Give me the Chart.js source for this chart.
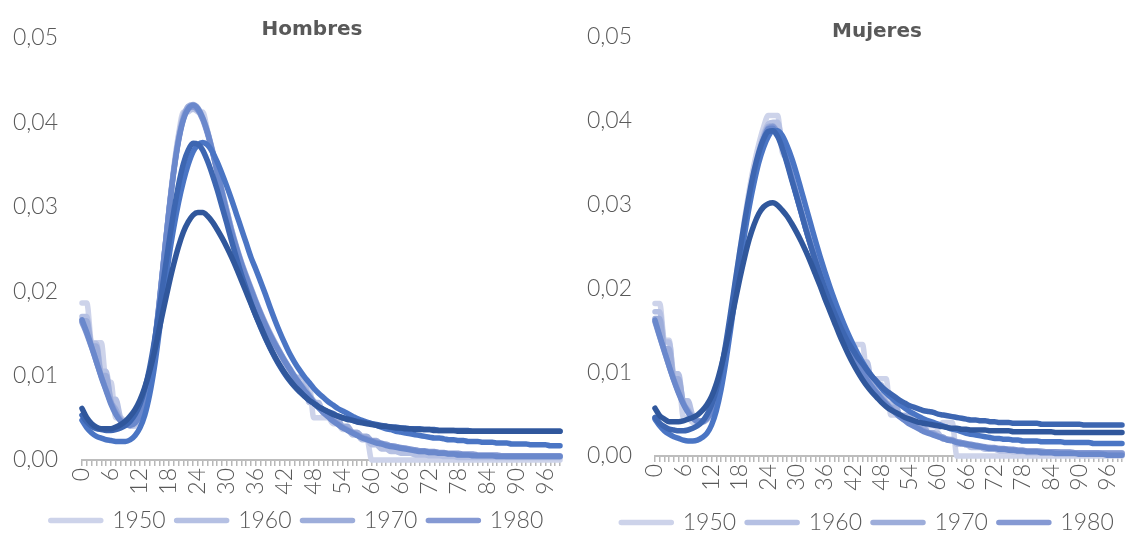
<!DOCTYPE html>
<html><head><meta charset="utf-8">
<script src="https://cdn.jsdelivr.net/npm/chart.js@4/dist/chart.umd.min.js"></script>
<style>
html,body{margin:0;padding:0;background:#fff;overflow:hidden;width:1129px;height:537px;}
canvas{position:absolute;top:0;}
#cH{left:0;}
#cM{left:565px;}
</style></head><body>
<canvas id="cH" width="565" height="542"></canvas>
<canvas id="cM" width="564" height="544"></canvas>
<script>
const ages = [0,1,2,3,4,5,6,7,8,9,10,11,12,13,14,15,16,17,18,19,20,21,22,23,24,25,26,27,28,29,30,31,32,33,34,35,36,37,38,39,40,41,42,43,44,45,46,47,48,49,50,51,52,53,54,55,56,57,58,59,60,61,62,63,64,65,66,67,68,69,70,71,72,73,74,75,76,77,78,79,80,81,82,83,84,85,86,87,88,89,90,91,92,93,94,95,96,97,98,99];
const years = ['1950','1960','1970','1980','1990','2000','2010','2020'];
const seriesColors = ['#cdd3ea','#b5c0e3','#9dadda','#8599d3','#6a88cc','#4a75c4','#3d66b1','#30579c'];
const legendShown = 4;

// Hombres
const hombres1950 = [0.0186,0.0186,0.0139,0.0139,0.0139,0.0092,0.0092,0.0050,0.0050,0.0045,
0.0040,0.0040,0.0048,0.0062,0.0093,0.0133,0.0183,0.0240,0.0296,0.0346,
0.0386,0.0412,0.0412,0.0418,0.0412,0.0412,0.0390,0.0368,0.0345,0.0320,
0.0296,0.0272,0.0250,0.0232,0.0215,0.0200,0.0185,0.0172,0.0160,0.0148,
0.0136,0.0125,0.0115,0.0105,0.0092,0.0092,0.0092,0.0092,0.0050,0.0050,
0.0050,0.0050,0.0043,0.0043,0.0036,0.0036,0.0030,0.0030,0.0025,0.0025,
0,0,0,0,0,0,0,0,0,0,
0,0,0,0,0,0,0,0,0,0,
0,0,0,0,0,0,0,0,0,0,
0,0,0,0,0,0,0,0,0,0];
const hombres1960 = [0.0170,0.0170,0.0138,0.0138,0.0105,0.0105,0.0072,0.0072,0.0050,0.0045,
0.0040,0.0042,0.0050,0.0066,0.0094,0.0134,0.0184,0.0240,0.0295,0.0344,
0.0383,0.0409,0.0415,0.0415,0.0415,0.0406,0.0389,0.0367,0.0343,0.0319,
0.0296,0.0273,0.0253,0.0235,0.0219,0.0204,0.0189,0.0175,0.0162,0.0150,
0.0139,0.0128,0.0118,0.0108,0.0098,0.0098,0.0098,0.0068,0.0068,0.0068,
0.0055,0.0055,0.0045,0.0045,0.0038,0.0038,0.0030,0.0030,0.0024,0.0024,
0.0018,0.0018,0.0013,0.0013,0.0010,0.0010,0.0008,0.0008,0.0008,0.0006,
0.0006,0.0006,0.0005,0.0005,0.0005,0.0004,0.0004,0.0004,0.0003,0.0003,
0.0003,0.0003,0.0003,0.0003,0.0003,0.0003,0.0003,0.0003,0.0003,0.0003,
0.0003,0.0003,0.0003,0.0003,0.0003,0.0003,0.0003,0.0003,0.0003,0.0003];
const hombres1970 = [0.0165,0.0165,0.0135,0.0135,0.0100,0.0100,0.0070,0.0060,0.0048,0.0044,
0.0042,0.0044,0.0052,0.0068,0.0096,0.0135,0.0184,0.0240,0.0294,0.0342,
0.0380,0.0406,0.0419,0.0421,0.0417,0.0405,0.0388,0.0366,0.0342,0.0318,
0.0295,0.0272,0.0252,0.0234,0.0218,0.0203,0.0188,0.0174,0.0161,0.0149,
0.0138,0.0128,0.0118,0.0109,0.0100,0.0092,0.0085,0.0078,0.0070,0.0064,
0.0058,0.0053,0.0048,0.0048,0.0040,0.0040,0.0033,0.0033,0.0028,0.0028,
0.0023,0.0023,0.0019,0.0019,0.0016,0.0016,0.0014,0.0014,0.0012,0.0012,
0.0010,0.0010,0.0009,0.0009,0.0008,0.0008,0.0007,0.0007,0.0006,0.0006,
0.0006,0.0006,0.0005,0.0005,0.0005,0.0005,0.0005,0.0005,0.0004,0.0004,
0.0004,0.0004,0.0004,0.0004,0.0004,0.0004,0.0004,0.0004,0.0004,0.0004];
const hombres1980 = [0.0163,0.0149,0.0133,0.0116,0.0099,0.0083,0.0068,0.0056,0.0047,0.0043,
0.0042,0.0045,0.0054,0.0071,0.0099,0.0138,0.0187,0.0242,0.0295,0.0342,
0.0379,0.0404,0.0416,0.0418,0.0414,0.0403,0.0386,0.0365,0.0341,0.0316,
0.0292,0.0270,0.0250,0.0232,0.0216,0.0201,0.0186,0.0172,0.0159,0.0147,
0.0136,0.0126,0.0116,0.0107,0.0098,0.0090,0.0082,0.0075,0.0068,0.0062,
0.0057,0.0052,0.0047,0.0043,0.0039,0.0036,0.0033,0.0030,0.0027,0.0025,
0.0023,0.0021,0.0020,0.0018,0.0017,0.0016,0.0015,0.0014,0.0013,0.0012,
0.0011,0.0011,0.0010,0.0010,0.0009,0.0009,0.0008,0.0008,0.0008,0.0007,
0.0007,0.0007,0.0006,0.0006,0.0006,0.0006,0.0006,0.0005,0.0005,0.0005,
0.0005,0.0005,0.0005,0.0005,0.0005,0.0005,0.0005,0.0005,0.0005,0.0005];
const hombres1990 = [0.0166,0.0151,0.0134,0.0116,0.0098,0.0082,0.0066,0.0054,0.0046,0.0042,
0.0041,0.0044,0.0053,0.0070,0.0098,0.0137,0.0186,0.0241,0.0294,0.0341,
0.0378,0.0403,0.0416,0.0420,0.0416,0.0405,0.0388,0.0366,0.0342,0.0317,
0.0293,0.0270,0.0251,0.0233,0.0217,0.0202,0.0187,0.0173,0.0160,0.0148,
0.0137,0.0127,0.0117,0.0108,0.0099,0.0091,0.0083,0.0076,0.0068,0.0062,
0.0056,0.0051,0.0046,0.0042,0.0038,0.0035,0.0032,0.0029,0.0026,0.0024,
0.0022,0.0020,0.0019,0.0017,0.0016,0.0015,0.0014,0.0013,0.0012,0.0011,
0.0010,0.0010,0.0009,0.0009,0.0008,0.0008,0.0007,0.0007,0.0006,0.0006,
0.0006,0.0005,0.0005,0.0005,0.0005,0.0005,0.0004,0.0004,0.0004,0.0004,
0.0004,0.0004,0.0004,0.0004,0.0004,0.0004,0.0004,0.0004,0.0004,0.0004];
const hombres2000 = [0.0047,0.0038,0.0032,0.0028,0.0026,0.0024,0.0023,0.0022,0.0022,0.0022,
0.0024,0.0029,0.0038,0.0053,0.0077,0.0110,0.0152,0.0195,0.0240,0.0275,
0.0305,0.0330,0.0350,0.0365,0.0373,0.0376,0.0373,0.0365,0.0353,0.0339,
0.0324,0.0308,0.0291,0.0274,0.0257,0.0240,0.0226,0.0211,0.0196,0.0180,
0.0165,0.0151,0.0138,0.0126,0.0116,0.0107,0.0099,0.0092,0.0085,0.0079,
0.0074,0.0069,0.0065,0.0061,0.0058,0.0055,0.0052,0.0049,0.0047,0.0045,
0.0043,0.0041,0.0039,0.0037,0.0036,0.0034,0.0033,0.0032,0.0031,0.0030,
0.0029,0.0028,0.0027,0.0026,0.0026,0.0025,0.0024,0.0024,0.0023,0.0023,
0.0022,0.0022,0.0022,0.0021,0.0021,0.0021,0.0020,0.0020,0.0020,0.0019,
0.0019,0.0019,0.0019,0.0018,0.0018,0.0018,0.0018,0.0017,0.0017,0.0017];
const hombres2010 = [0.0053,0.0045,0.0040,0.0037,0.0036,0.0035,0.0035,0.0036,0.0038,0.0041,
0.0046,0.0054,0.0066,0.0084,0.0109,0.0141,0.0179,0.0218,0.0257,0.0294,
0.0326,0.0351,0.0367,0.0375,0.0374,0.0367,0.0354,0.0338,0.0320,0.0300,
0.0280,0.0259,0.0239,0.0220,0.0203,0.0186,0.0171,0.0157,0.0144,0.0132,
0.0121,0.0111,0.0102,0.0094,0.0087,0.0081,0.0076,0.0071,0.0067,0.0063,
0.0060,0.0057,0.0055,0.0052,0.0050,0.0049,0.0047,0.0046,0.0045,0.0044,
0.0043,0.0042,0.0041,0.0040,0.0039,0.0039,0.0038,0.0038,0.0037,0.0037,
0.0037,0.0036,0.0036,0.0036,0.0035,0.0035,0.0035,0.0035,0.0035,0.0035,
0.0035,0.0034,0.0034,0.0034,0.0034,0.0034,0.0034,0.0034,0.0034,0.0034,
0.0034,0.0034,0.0034,0.0034,0.0034,0.0034,0.0034,0.0034,0.0034,0.0034];
const hombres2020 = [0.0061,0.0050,0.0043,0.0039,0.0037,0.0037,0.0037,0.0039,0.0042,0.0046,
0.0052,0.0060,0.0071,0.0086,0.0105,0.0128,0.0155,0.0182,0.0208,0.0232,
0.0253,0.0270,0.0282,0.0290,0.0293,0.0293,0.0289,0.0282,0.0273,0.0263,
0.0252,0.0240,0.0227,0.0213,0.0199,0.0185,0.0171,0.0158,0.0145,0.0133,
0.0122,0.0112,0.0103,0.0095,0.0088,0.0082,0.0076,0.0071,0.0067,0.0063,
0.0060,0.0057,0.0054,0.0052,0.0050,0.0048,0.0047,0.0045,0.0044,0.0043,
0.0042,0.0041,0.0040,0.0040,0.0039,0.0038,0.0038,0.0037,0.0037,0.0036,
0.0036,0.0036,0.0036,0.0035,0.0035,0.0035,0.0035,0.0035,0.0034,0.0034,
0.0034,0.0034,0.0034,0.0034,0.0034,0.0034,0.0034,0.0034,0.0034,0.0034,
0.0034,0.0034,0.0034,0.0034,0.0034,0.0034,0.0034,0.0034,0.0034,0.0034];

// Mujeres
const mujeres1950 = [0.0182,0.0182,0.0138,0.0138,0.0092,0.0092,0.0046,0.0046,0.0040,0.0040,
0.0040,0.0046,0.0056,0.0072,0.0097,0.0128,0.0165,0.0205,0.0245,0.0283,
0.0318,0.0348,0.0372,0.0392,0.0406,0.0406,0.0406,0.0362,0.0355,0.0335,
0.0313,0.0291,0.0271,0.0252,0.0234,0.0217,0.0201,0.0185,0.0170,0.0156,
0.0143,0.0133,0.0133,0.0133,0.0133,0.0092,0.0092,0.0092,0.0092,0.0092,
0.0049,0.0049,0.0049,0.0049,0.0044,0.0044,0.0040,0.0040,0.0036,0.0036,
0.0033,0.0040,0.0040,0.0040,0,0,0,0,0,0,
0,0,0,0,0,0,0,0,0,0,
0,0,0,0,0,0,0,0,0,0,
0,0,0,0,0,0,0,0,0,0];
const mujeres1960 = [0.0172,0.0172,0.0136,0.0136,0.0098,0.0098,0.0066,0.0066,0.0048,0.0042,
0.0040,0.0043,0.0052,0.0068,0.0093,0.0124,0.0160,0.0199,0.0238,0.0276,
0.0310,0.0340,0.0364,0.0383,0.0396,0.0398,0.0398,0.0372,0.0354,0.0334,
0.0313,0.0293,0.0273,0.0254,0.0236,0.0219,0.0203,0.0187,0.0172,0.0158,
0.0145,0.0133,0.0122,0.0112,0.0112,0.0112,0.0085,0.0085,0.0085,0.0062,
0.0062,0.0062,0.0047,0.0047,0.0047,0.0036,0.0036,0.0036,0.0027,0.0027,
0.0027,0.0020,0.0020,0.0020,0.0014,0.0014,0.0014,0.0010,0.0010,0.0010,
0.0008,0.0008,0.0008,0.0006,0.0006,0.0006,0.0005,0.0005,0.0005,0.0004,
0.0004,0.0004,0.0004,0.0004,0.0004,0.0004,0.0004,0.0004,0.0004,0.0004,
0.0003,0.0003,0.0003,0.0003,0.0003,0.0003,0.0003,0.0003,0.0003,0.0003];
const mujeres1970 = [0.0164,0.0164,0.0128,0.0128,0.0092,0.0092,0.0064,0.0055,0.0047,0.0042,
0.0041,0.0044,0.0053,0.0070,0.0095,0.0126,0.0162,0.0200,0.0238,0.0275,
0.0308,0.0337,0.0361,0.0380,0.0393,0.0394,0.0386,0.0371,0.0353,0.0333,
0.0312,0.0292,0.0272,0.0253,0.0235,0.0218,0.0202,0.0186,0.0171,0.0157,
0.0144,0.0132,0.0121,0.0111,0.0101,0.0092,0.0084,0.0077,0.0070,0.0064,
0.0058,0.0058,0.0048,0.0048,0.0040,0.0040,0.0033,0.0033,0.0028,0.0028,
0.0023,0.0023,0.0019,0.0019,0.0016,0.0016,0.0013,0.0013,0.0011,0.0011,
0.0010,0.0010,0.0009,0.0009,0.0008,0.0008,0.0007,0.0007,0.0007,0.0006,
0.0006,0.0006,0.0006,0.0005,0.0005,0.0005,0.0005,0.0005,0.0005,0.0004,
0.0004,0.0004,0.0004,0.0004,0.0004,0.0004,0.0004,0.0004,0.0004,0.0004];
const mujeres1980 = [0.0160,0.0142,0.0124,0.0107,0.0091,0.0076,0.0063,0.0053,0.0046,0.0042,
0.0042,0.0046,0.0055,0.0072,0.0097,0.0128,0.0163,0.0200,0.0237,0.0273,
0.0306,0.0335,0.0359,0.0378,0.0391,0.0393,0.0385,0.0370,0.0352,0.0332,
0.0311,0.0291,0.0271,0.0252,0.0234,0.0217,0.0201,0.0185,0.0170,0.0156,
0.0143,0.0131,0.0120,0.0110,0.0100,0.0091,0.0083,0.0076,0.0069,0.0063,
0.0057,0.0052,0.0047,0.0043,0.0039,0.0036,0.0033,0.0030,0.0028,0.0026,
0.0024,0.0022,0.0020,0.0019,0.0017,0.0016,0.0015,0.0014,0.0013,0.0012,
0.0011,0.0010,0.0010,0.0009,0.0009,0.0008,0.0008,0.0007,0.0007,0.0006,
0.0006,0.0006,0.0005,0.0005,0.0005,0.0005,0.0004,0.0004,0.0004,0.0004,
0.0004,0.0004,0.0004,0.0004,0.0004,0.0003,0.0003,0.0003,0.0003,0.0003];
const mujeres1990 = [0.0162,0.0143,0.0125,0.0107,0.0090,0.0075,0.0062,0.0052,0.0045,0.0041,
0.0041,0.0045,0.0053,0.0070,0.0095,0.0125,0.0160,0.0198,0.0235,0.0271,
0.0304,0.0333,0.0357,0.0377,0.0390,0.0391,0.0383,0.0369,0.0351,0.0331,
0.0310,0.0290,0.0270,0.0251,0.0233,0.0216,0.0200,0.0184,0.0169,0.0155,
0.0142,0.0130,0.0119,0.0108,0.0099,0.0090,0.0082,0.0075,0.0068,0.0062,
0.0056,0.0051,0.0046,0.0042,0.0038,0.0035,0.0032,0.0029,0.0027,0.0025,
0.0023,0.0021,0.0019,0.0018,0.0016,0.0015,0.0014,0.0013,0.0012,0.0011,
0.0010,0.0009,0.0009,0.0008,0.0008,0.0007,0.0007,0.0006,0.0006,0.0005,
0.0005,0.0005,0.0004,0.0004,0.0004,0.0003,0.0003,0.0003,0.0003,0.0003,
0.0002,0.0002,0.0002,0.0002,0.0002,0.0002,0.0001,0.0001,0.0001,0.0001];
const mujeres2000 = [0.0044,0.0036,0.0030,0.0026,0.0023,0.0021,0.0019,0.0018,0.0018,0.0019,
0.0022,0.0027,0.0037,0.0054,0.0079,0.0112,0.0150,0.0190,0.0229,0.0265,
0.0298,0.0326,0.0350,0.0368,0.0381,0.0388,0.0388,0.0382,0.0370,0.0355,
0.0337,0.0317,0.0297,0.0277,0.0257,0.0238,0.0220,0.0203,0.0187,0.0172,
0.0158,0.0145,0.0133,0.0122,0.0112,0.0103,0.0095,0.0088,0.0081,0.0075,
0.0070,0.0065,0.0061,0.0057,0.0053,0.0050,0.0047,0.0044,0.0042,0.0040,
0.0038,0.0036,0.0034,0.0032,0.0031,0.0029,0.0027,0.0026,0.0025,0.0024,
0.0023,0.0022,0.0021,0.0021,0.0020,0.0020,0.0019,0.0019,0.0018,0.0018,
0.0018,0.0018,0.0017,0.0017,0.0017,0.0017,0.0017,0.0016,0.0016,0.0016,
0.0016,0.0016,0.0016,0.0015,0.0015,0.0015,0.0015,0.0015,0.0015,0.0015];
const mujeres2010 = [0.0046,0.0039,0.0035,0.0032,0.0031,0.0030,0.0030,0.0031,0.0033,0.0036,
0.0041,0.0049,0.0061,0.0079,0.0103,0.0134,0.0170,0.0208,0.0245,0.0280,
0.0312,0.0340,0.0362,0.0378,0.0387,0.0388,0.0381,0.0367,0.0349,0.0329,
0.0310,0.0290,0.0270,0.0251,0.0233,0.0216,0.0200,0.0185,0.0171,0.0158,
0.0146,0.0135,0.0126,0.0117,0.0110,0.0102,0.0095,0.0089,0.0083,0.0078,
0.0074,0.0070,0.0066,0.0063,0.0060,0.0058,0.0056,0.0054,0.0053,0.0052,
0.0050,0.0049,0.0048,0.0047,0.0046,0.0045,0.0044,0.0043,0.0043,0.0042,
0.0042,0.0041,0.0041,0.0040,0.0040,0.0040,0.0039,0.0039,0.0039,0.0039,
0.0039,0.0039,0.0038,0.0038,0.0038,0.0038,0.0038,0.0038,0.0038,0.0038,
0.0038,0.0037,0.0037,0.0037,0.0037,0.0037,0.0037,0.0037,0.0037,0.0037];
const mujeres2020 = [0.0057,0.0048,0.0044,0.0041,0.0041,0.0041,0.0042,0.0044,0.0046,0.0049,
0.0054,0.0061,0.0071,0.0086,0.0106,0.0130,0.0157,0.0185,0.0212,0.0237,
0.0259,0.0276,0.0289,0.0297,0.0301,0.0302,0.0299,0.0293,0.0286,0.0277,
0.0267,0.0256,0.0244,0.0231,0.0217,0.0203,0.0188,0.0174,0.0160,0.0146,
0.0133,0.0121,0.0110,0.0100,0.0091,0.0083,0.0076,0.0070,0.0064,0.0059,
0.0055,0.0052,0.0049,0.0046,0.0044,0.0042,0.0040,0.0039,0.0038,0.0037,
0.0036,0.0035,0.0034,0.0033,0.0033,0.0032,0.0032,0.0031,0.0031,0.0031,
0.0031,0.0030,0.0030,0.0030,0.0030,0.0030,0.0029,0.0029,0.0029,0.0029,
0.0029,0.0029,0.0029,0.0029,0.0029,0.0028,0.0028,0.0028,0.0028,0.0028,
0.0028,0.0028,0.0028,0.0028,0.0028,0.0028,0.0028,0.0028,0.0028,0.0028];

const hombresSeries = [hombres1950,hombres1960,hombres1970,hombres1980,hombres1990,hombres2000,hombres2010,hombres2020];
const mujeresSeries = [mujeres1950,mujeres1960,mujeres1970,mujeres1980,mujeres1990,mujeres2000,mujeres2010,mujeres2020];

const textColor = '#595959';
const numFont = {family: 'Lato', size: 23, weight: 300};

const panelTitlePlugin = {
  id: 'panelTitle',
  afterLayout(chart, args, opts) {
    const lg = chart.legend;
    if (lg && opts.legendShift) { lg.left += opts.legendShift; lg.right += opts.legendShift; }
  },
  afterDraw(chart, args, opts) {
    const ctx = chart.ctx;
    ctx.save();
    ctx.font = 'bold 20px "DejaVu Sans"';
    ctx.fillStyle = textColor;
    ctx.textAlign = 'center';
    ctx.textBaseline = 'middle';
    ctx.fillText(opts.text, opts.x, opts.y);
    ctx.restore();
  }
};

function buildChart(id, titleText, seriesList, lay) {
  return new Chart(document.getElementById(id), {
    type: 'line',
    data: {
      labels: ages,
      datasets: seriesList.map((vals, i) => ({
        label: years[i],
        data: vals,
        borderColor: seriesColors[i],
        backgroundColor: seriesColors[i],
        borderWidth: 5.5,
        borderCapStyle: 'round',
        borderJoinStyle: 'round',
        pointRadius: 0,
        pointHoverRadius: 0,
        cubicInterpolationMode: 'monotone',
        fill: false,
        clip: false,
        order: seriesList.length - i
      }))
    },
    options: {
      responsive: false,
      animation: false,
      events: [],
      layout: {padding: {left: 0, right: lay.padR, top: lay.padT, bottom: 0}},
      scales: {
        x: {
          type: 'category',
          offset: false,
          grid: {display: true, drawOnChartArea: false, drawTicks: true, tickLength: 6, color: '#b8b8b8', lineWidth: 1.5},
          border: {display: true, color: '#bdbdbd', width: 2},
          ticks: {
            autoSkip: false, maxRotation: 90, minRotation: 90, padding: 2,
            color: textColor, font: numFont,
            callback: function(v, idx) { return idx % 6 === 0 ? String(this.getLabelForValue(v)) : ''; }
          },
          afterFit: s => { s.height = lay.xH; s.paddingLeft = 0; s.paddingRight = 0; }
        },
        y: {
          min: 0, max: 0.05,
          grid: {display: false, drawTicks: false},
          border: {display: false},
          ticks: {
            stepSize: 0.01, padding: lay.yPad, color: textColor, font: numFont,
            callback: v => v.toFixed(2).replace('.', ',')
          },
          afterFit: s => { s.width = lay.yW; }
        }
      },
      plugins: {
        title: {display: false},
        tooltip: {enabled: false},
        legend: {
          position: 'bottom',
          align: 'center',
          labels: {
            usePointStyle: false,
            boxWidth: 50,
            boxHeight: 0,
            padding: 11,
            color: textColor,
            font: numFont,
            generateLabels: chart => {
              const base = Chart.defaults.plugins.legend.labels.generateLabels(chart);
              return base
                .filter(it => it.datasetIndex < legendShown)
                .sort((a, b) => a.datasetIndex - b.datasetIndex)
                .map(it => Object.assign(it, {
                  lineWidth: 5.5, lineCap: 'round', lineJoin: 'round', lineDash: [],
                  fillStyle: seriesColors[it.datasetIndex],
                  strokeStyle: seriesColors[it.datasetIndex], fontColor: textColor, borderRadius: 0
                }));
            }
          }
        },
        panelTitle: {text: titleText, x: lay.titleX, y: lay.titleY, legendShift: lay.legendShift}
      }
    },
    plugins: [panelTitlePlugin]
  });
}

function drawAll() {
  buildChart('cH', 'Hombres', hombresSeries, {padR: 5, padT: 28, yW: 82, yPad: 24, xH: 38, titleX: 312, titleY: 30, legendShift: 17});
  buildChart('cM', 'Mujeres', mujeresSeries, {padR: 7, padT: 18, yW: 90, yPad: 23, xH: 44, titleX: 312, titleY: 32, legendShift: 24});
}
Promise.all([
  document.fonts.load('300 23px Lato'),
  document.fonts.load('bold 20px "DejaVu Sans"')
]).then(drawAll, drawAll);
</script>
</body></html>
